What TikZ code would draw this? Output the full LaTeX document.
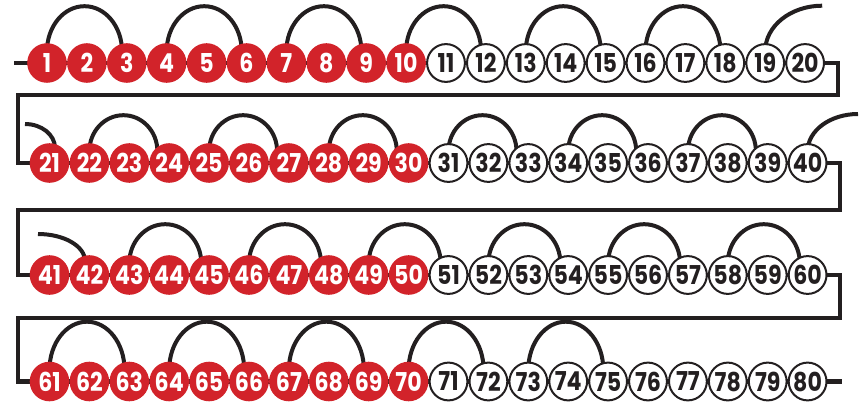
\documentclass[tikz,border=0pt]{standalone}
\usepackage{fontspec}
\newfontfamily\numfont{Poppins}[FakeStretch=0.85]
\usetikzlibrary{calc,backgrounds}
\definecolor{ballred}{HTML}{D2232A}
\definecolor{ink}{HTML}{231F20}
\begin{document}
\begin{tikzpicture}[x=1pt,y=-1pt,
  numtext/.style={font={\numfont\bfseries\fontsize{26pt}{26pt}\selectfont}},
  redball/.style={circle,fill=ballred,minimum size=39.6pt,inner sep=0pt,text=white,numtext},
  whiteball/.style={circle,fill=white,draw=ink,line width=2pt,minimum size=37.8pt,inner sep=0pt,text=ink,numtext},
  conn/.style={draw=ink,line width=4.5pt},
  hump/.style={draw=ink,line width=4pt}]
\useasboundingbox (0,0) rectangle (867,404);
% balls
\foreach \r/\yy/\xx in {0/63/47,1/163/49.5,2/275/49.5,3/381.5/49.5}{
  \foreach \k in {1,...,20}{
    \pgfmathtruncatemacro{\n}{20*\r+\k}
    \ifnum\k<11
      \node[redball] (c\n) at ({\xx+(\k-1)*39.9},\yy) {\n};
    \else
      \node[whiteball] (c\n) at ({\xx+(\k-1)*39.9},\yy) {\n};
    \fi
  }
}
% named turning points
\coordinate (s0) at (14,63);
\coordinate (r1) at (838,95);
\coordinate (l1) at (18,95);
\coordinate (r2) at (840,210);
\coordinate (l2) at (18,210);
\coordinate (r3) at (840,318);
\coordinate (l3) at (18,318);
\coordinate (e4) at (842,381.5);
\coordinate (h21) at (25,124);
\coordinate (h42) at (38,234);
\begin{pgfonlayer}{background}
\draw[conn] (s0) -- (c1.center) -- (c20.center) -| (r1) -- (l1) |- (c21.center)
  -- (c40.center) -| (r2) -- (l2) |- (c41.center)
  -- (c60.center) -| (r3) -- (l3) |- (c61.center)
  -- (c80.center) -- (e4);
% humps row 1
\foreach \i in {1,4,...,16}
  \draw[hump] ($(c\i.center)+(0,-11.8)$) arc[start angle=180,end angle=360,x radius=37.5,y radius=45];
\draw[hump] ($(c19.center)+(0,-11.8)$) arc[start angle=180,end angle=270,x radius=57,y radius=45.5];
% row 2
\draw[hump] (h21) arc[start angle=270,end angle=360,x radius=30,y radius=24];
\foreach \i in {22,25,...,37}
  \draw[hump] ($(c\i.center)+(0,-11.8)$) arc[start angle=180,end angle=360,x radius=34,y radius=36];
\draw[hump] ($(c40.center)+(0,-11.8)$) arc[start angle=180,end angle=270,x radius=50.4,y radius=37.2];
% row 3
\draw[hump] (h42) arc[start angle=270,end angle=360,x radius=47,y radius=27];
\foreach \i in {43,46,...,58}
  \draw[hump] ($(c\i.center)+(0,-11.8)$) arc[start angle=180,end angle=360,x radius=36,y radius=39];
% row 4
\foreach \i in {61,64,...,73}
  \draw[hump] ($(c\i.center)+(0,-11.8)$) arc[start angle=180,end angle=360,x radius=37.5,y radius=48];
\end{pgfonlayer}
\end{tikzpicture}
\end{document}
